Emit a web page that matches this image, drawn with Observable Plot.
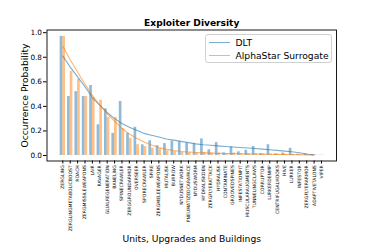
<!DOCTYPE html>
<html>
<head>
<meta charset="utf-8">
<script src="https://cdn.jsdelivr.net/npm/d3@7"></script>
<script src="https://cdn.jsdelivr.net/npm/@observablehq/plot@0.6"></script>
<style>
  body { margin: 0; background: #fff; }
  #wrap { position: relative; width: 374px; height: 249px; font-family: "DejaVu Sans", sans-serif; }
  #legend { position: absolute; left: 204.5px; top: 34px; width: 127px; height: 29px;
    border: 1px solid #d0d0d0; border-radius: 3px; background: rgba(255,255,255,0.85);
    font-size: 9.2px; color: #000; box-sizing: border-box; }
  .entry { position: absolute; left: 3px; height: 12px; display: flex; align-items: center; }
  .swatch { width: 21px; height: 0; border-top: 1.1px solid; margin-right: 6px; }
</style>
</head>
<body>
<div id="wrap">
  <div id="chart"></div>
  <div id="legend">
    <div class="entry" style="top:1px"><span class="swatch" style="border-color:rgba(31,119,180,0.6)"></span>DLT</div>
    <div class="entry" style="top:14.5px"><span class="swatch" style="border-color:rgba(255,127,14,0.6)"></span>AlphaStar Surrogate</div>
  </div>
</div>
<script>
const categories = ["ZERGLING","ZERGLINGMETABOLICBOOST","ROACH","ZERGMISSILEWEAPONS","LAIR","RAVAGER",
  "GLIALREGENERATION","BANELING","SPINECRAWLER","ZERGGROUNDARMOR","OVERSEER","SPORECRAWLER","SPIRE",
  "ZERGMELEEWEAPONS","MUTALISK","BURROW","NYDUSNETWORK","PNEUMATIZEDCARAPACE","NYDUSWORM","HYDRALISKDEN",
  "ZERGFLYERATTACK","HYDRALISK","CONTAMINATE","GROOVEDSPINES","INFESTATIONPIT","MUSCULARAUGMENTS",
  "TUNNELINGCLAWS","CORRUPTOR","LURKERDENMP","CENTRIFUGALHOOKS","HIVE","LURKER","INFESTOR",
  "ZERGFLYERARMOR","ADAPTIVETALONS","VIPER"];
const dltBars = [0.97,0.48,0.52,0.48,0.57,0.25,0.38,0.18,0.44,0.18,0.23,0.087,0.12,0.08,0.097,0.117,0.112,0.10,
  0.095,0.135,0.046,0.105,0.022,0.07,0.03,0.042,0.073,0.015,0.088,0.013,0.02,0.058,0.01,0.012,0.008,0.002];
const surrogateBars = [0.97,0.685,0.62,0.48,0.47,0.45,0.31,0.31,0.22,0.14,0.088,0.072,0.06,0.055,0.037,0.03,0.027,
  0.022,0.02,0.025,0.02,0.02,0.015,0.02,0.015,0.015,0.015,0.012,0.012,0.01,0.01,0.01,0.008,0.008,0.005,0.003];
const dltFit = [0.81,0.72,0.64,0.56,0.47,0.41,0.35,0.30,0.26,0.23,0.205,0.18,0.165,0.15,0.135,0.125,0.115,0.105,
  0.095,0.088,0.083,0.078,0.073,0.069,0.065,0.061,0.057,0.052,0.047,0.042,0.036,0.03,0.022,0.012,0.004,null];
const surrogateFit = [0.89,0.78,0.68,0.58,0.49,0.41,0.34,0.28,0.22,0.175,0.14,0.11,0.085,0.065,0.05,0.04,0.033,
  0.028,0.024,0.021,0.019,0.017,0.016,0.015,0.014,0.013,0.012,0.011,0.01,0.009,0.008,0.007,0.006,0.004,0.002,null];
const yTicks = [0.0,0.2,0.4,0.6,0.8,1.0];
const title = "Exploiter Diversity";
const xLabel = "Units, Upgrades and Buildings";
const yLabel = "Occurrence Probability";

const data = categories.map((c, i) => ({
  i, c, dlt: dltBars[i], sur: surrogateBars[i], dltFit: dltFit[i], surFit: surrogateFit[i]
}));
const blue = "#1f77b4", orange = "#ff7f0e";
const bw = 0.36;

const chart = Plot.plot({
  width: 374, height: 249,
  marginLeft: 46.5, marginRight: 38, marginTop: 29.5, marginBottom: 88.5,
  style: { fontFamily: "DejaVu Sans, sans-serif", background: "#fff", color: "#000" },
  x: { type: "linear", domain: [-2.14, 37.03] },
  y: { domain: [-0.0448, 1.022] },
  marks: [
    Plot.rectY(data, { x1: d => d.i - bw, x2: d => d.i, y1: 0, y2: "dlt", fill: blue, fillOpacity: 0.5 }),
    Plot.rectY(data, { x1: d => d.i, x2: d => d.i + bw, y1: 0, y2: "sur", fill: orange, fillOpacity: 0.5 }),
    Plot.line(data, { x: "i", y: "dltFit", stroke: blue, strokeOpacity: 0.6, strokeWidth: 1.1 }),
    Plot.line(data, { x: "i", y: "surFit", stroke: orange, strokeOpacity: 0.6, strokeWidth: 1.1 }),
    Plot.axisY({ ticks: yTicks, tickFormat: d3.format(".1f"), fontSize: 7.3, tickSize: 3.5, tickPadding: 1.5, label: null }),
    Plot.axisX({ ticks: d3.range(categories.length), tickFormat: i => categories[i], tickRotate: -90,
      fontSize: 4.6, tickSize: 3, tickPadding: 1.2, label: null }),
    Plot.frame({ stroke: "#000", strokeWidth: 0.9 }),
    Plot.text([title], { frameAnchor: "top", dy: -6.9, lineAnchor: "middle", textAnchor: "middle",
      fontWeight: "bold", fontSize: 9.1, fill: "#000" }),
    Plot.text([xLabel], { frameAnchor: "bottom", dy: 77.6, lineAnchor: "middle", textAnchor: "middle",
      fontSize: 9.2, fill: "#000" }),
    Plot.text([yLabel], { frameAnchor: "left", dx: -22.1, rotate: -90, lineAnchor: "middle", textAnchor: "middle",
      fontSize: 9.2, fill: "#000" })
  ]
});
document.getElementById("chart").appendChild(chart);
</script>
</body>
</html>
